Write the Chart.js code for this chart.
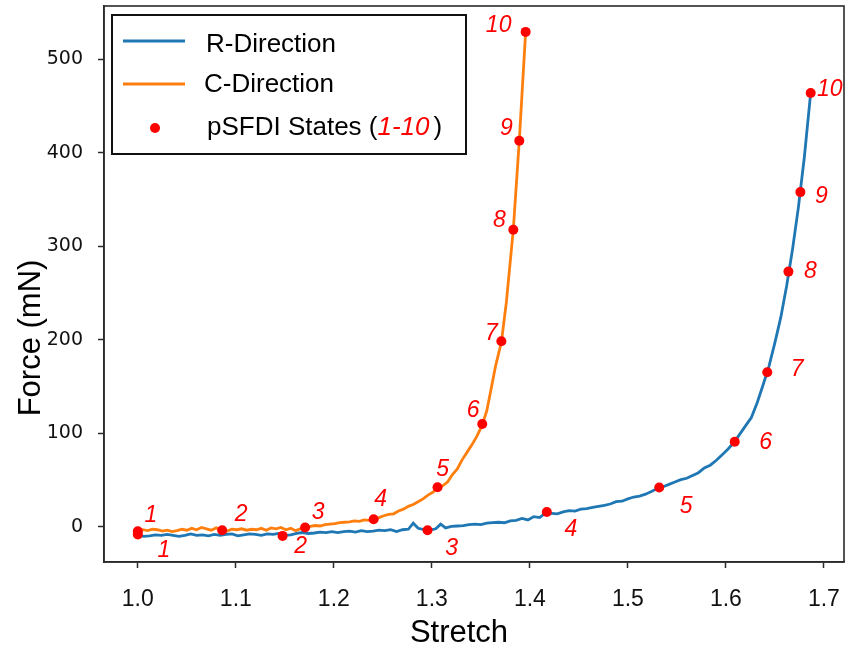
<!DOCTYPE html>
<html><head><meta charset="utf-8">
<script src="https://cdn.jsdelivr.net/npm/chart.js@4/dist/chart.umd.min.js"></script>
<style>html,body{margin:0;padding:0;background:#fff;}#wrap{width:849px;height:649px;}</style>
</head><body><div id="wrap"><canvas id="c" width="849" height="649"></canvas></div>
<script>
// ---- data ----
const rStretch = [1.000,1.006,1.012,1.018,1.024,1.030,1.036,1.042,1.048,1.054,1.060,1.066,1.072,1.078,1.084,1.090,1.096,1.102,1.108,1.114,1.120,1.126,1.132,1.138,1.144,1.150,1.156,1.162,1.168,1.174,1.180,1.186,1.192,1.198,1.204,1.210,1.216,1.222,1.228,1.234,1.240,1.246,1.252,1.258,1.264,1.270,1.276,1.281,1.286,1.292,1.298,1.304,1.309,1.314,1.320,1.326,1.332,1.338,1.344,1.350,1.356,1.362,1.368,1.374,1.380,1.386,1.392,1.398,1.404,1.410,1.416,1.422,1.428,1.434,1.440,1.446,1.452,1.458,1.464,1.470,1.476,1.482,1.488,1.494,1.500,1.506,1.512,1.518,1.524,1.530,1.536,1.542,1.548,1.554,1.560,1.566,1.572,1.578,1.584,1.590,1.596,1.602,1.608,1.614,1.620,1.626,1.632,1.638,1.644,1.650,1.656,1.662,1.668,1.674,1.680,1.6865];
const rForce = [-9,-10,-9.5,-8.5,-9,-8,-9,-10,-9,-7.5,-9,-8.5,-9.5,-8,-9,-8,-7.5,-9.5,-8.5,-7.5,-8,-9,-7.5,-8,-7,-9,-8.5,-7,-6,-7,-6.5,-5.5,-6,-5,-6,-5,-4.5,-5.5,-4,-5,-4.5,-3.5,-4,-3,-5,-3,-2.5,4,-1.5,-3,-3.5,-2,3,-1,0.5,1,1.5,2.5,3,2.5,4,4.5,5,4.5,6.5,7,9,7.5,11,10,15,14.5,14,16,17.5,17,19,19.5,21,22,23,24.5,27,27.5,30,32,33,35,38,41,43,45.5,48,50.5,52,55,58,63,66,71,77,83,90,99,108,117,133,152,172,197,224,258,297,342,395,464];
const cStretch = [1.000,1.005,1.010,1.015,1.020,1.025,1.030,1.035,1.040,1.045,1.050,1.055,1.060,1.065,1.070,1.075,1.080,1.086,1.091,1.096,1.101,1.106,1.111,1.116,1.121,1.126,1.131,1.136,1.141,1.146,1.151,1.156,1.161,1.166,1.171,1.176,1.181,1.186,1.191,1.196,1.201,1.206,1.211,1.216,1.221,1.226,1.231,1.236,1.241,1.246,1.251,1.256,1.261,1.266,1.271,1.276,1.281,1.286,1.291,1.296,1.301,1.306,1.311,1.316,1.321,1.326,1.331,1.336,1.341,1.346,1.351,1.356,1.360,1.365,1.371,1.376,1.3831,1.3892,1.3957];
const cForce = [-4.5,-3,-4,-2.5,-3,-4.5,-3.5,-5,-4,-2.5,-3.5,-1.5,-3,-0.5,-2,-3.5,-1,-3.5,-4.5,-2.5,-3,-2,-3.5,-2.5,-3,-1.5,-3.5,-1,-2,-0.5,-3,-1.5,-4,-2,-0.6,0.5,1.5,1,2.5,3,3.5,4.5,5,5.5,6.5,6,7.5,7,8.2,10,12,13.5,14,17,19,22,24,27,30,34,37,42,44,48,56,62,72,80,88,97,108,124,145,172,198,240,318,413,529.3];
const rStateStretch = [1.000,1.1477,1.2956,1.4173,1.532,1.609,1.6422,1.6638,1.676,1.6865];
const rStateForce = [-8,-9.6,-3.5,16,42.2,91,165.3,273,358,464];
const cStateStretch = [1.000,1.0861,1.1707,1.2406,1.3058,1.3514,1.3709,1.3831,1.3892,1.3957];
const cStateForce = [-4.6,-3.5,-0.6,8.2,42.5,110,198.5,317.7,413,529.3];
const stateLabels = ['1','2','3','4','5','6','7','8','9','10'];
const xTicks = [1.0,1.1,1.2,1.3,1.4,1.5,1.6,1.7];
const yTicks = [0,100,200,300,400,500];
const seriesNames = ['R-Direction','C-Direction','pSFDI States'];

// ---- layout constants (pixel offsets for state labels) ----
const cLabelOffsets = [[13,-16],[19,-16],[13,-15],[7,-20],[5,-18],[-9,-13],[-10,-8],[-14,-9],[-13,-12],[-27,-6]];
const rLabelOffsets = [[26,16],[18,11],[24,18],[24,18],[27,19],[31,1],[30,-3],[22,0],[21,4],[19,-3]];

const BLUE = '#1f77b4', ORANGE = '#ff7f0e', RED = '#ff0000';
const pts = (xs, ys) => xs.map((x, i) => ({x: x, y: ys[i]}));
const zeroPad = s => { s.paddingTop = 0; s.paddingBottom = 0; s.paddingLeft = 0; s.paddingRight = 0; };

const framePlugin = {
  id: 'frame',
  afterDraw(chart) {
    const {ctx, chartArea: a} = chart;
    ctx.save();
    ctx.strokeStyle = '#2a2a2a';
    ctx.lineWidth = 1.6;
    ctx.strokeRect(a.left, a.top, a.right - a.left, a.bottom - a.top);
    ctx.fillStyle = '#000';
    ctx.font = '31px "Liberation Sans", Arial, sans-serif';
    ctx.textAlign = 'center';
    ctx.textBaseline = 'middle';
    ctx.fillText('Stretch', 459, 633);
    ctx.translate(31, 338);
    ctx.rotate(-Math.PI / 2);
    ctx.fillText('Force (mN)', 0, 0);
    ctx.restore();
  }
};

const labelPlugin = {
  id: 'stateLabels',
  afterDatasetsDraw(chart) {
    const {ctx} = chart;
    ctx.save();
    ctx.fillStyle = RED;
    ctx.font = 'italic 23px "Liberation Sans", Arial, sans-serif';
    ctx.textAlign = 'center';
    ctx.textBaseline = 'middle';
    [[2, rLabelOffsets], [3, cLabelOffsets]].forEach(([di, offs]) => {
      const meta = chart.getDatasetMeta(di);
      meta.data.forEach((el, i) => {
        ctx.fillText(stateLabels[i], el.x + offs[i][0], el.y + offs[i][1]);
      });
    });
    ctx.restore();
  }
};

const legendPlugin = {
  id: 'customLegend',
  afterDraw(chart) {
    const {ctx} = chart;
    ctx.save();
    ctx.fillStyle = '#fff';
    ctx.fillRect(112, 15, 354, 139);
    ctx.strokeStyle = '#111';
    ctx.lineWidth = 2;
    ctx.strokeRect(112, 15, 354, 139);
    ctx.lineWidth = 3;
    ctx.strokeStyle = BLUE;
    ctx.beginPath(); ctx.moveTo(123, 41); ctx.lineTo(185, 41); ctx.stroke();
    ctx.strokeStyle = ORANGE;
    ctx.beginPath(); ctx.moveTo(123, 84); ctx.lineTo(185, 84); ctx.stroke();
    ctx.fillStyle = RED;
    ctx.beginPath(); ctx.arc(155, 128, 5, 0, Math.PI * 2); ctx.fill();
    ctx.fillStyle = '#000';
    ctx.textBaseline = 'middle';
    ctx.textAlign = 'left';
    ctx.font = '26px "Liberation Sans", Arial, sans-serif';
    ctx.fillText(seriesNames[0], 206, 45);
    ctx.fillText(seriesNames[1], 204, 85);
    const t1 = seriesNames[2] + ' (';
    ctx.fillText(t1, 207, 128);
    let x = 207 + ctx.measureText(t1).width;
    ctx.font = 'italic 26px "Liberation Sans", Arial, sans-serif';
    ctx.fillStyle = RED;
    const t2 = stateLabels[0] + '-' + stateLabels[9];
    ctx.fillText(t2, x, 128);
    x += ctx.measureText(t2).width + 4;
    ctx.font = '26px "Liberation Sans", Arial, sans-serif';
    ctx.fillStyle = '#000';
    ctx.fillText(')', x, 128);
    ctx.restore();
  }
};

new Chart(document.getElementById('c'), {
  type: 'scatter',
  data: {
    datasets: [
      {label: seriesNames[0], data: pts(rStretch, rForce), showLine: true, borderColor: BLUE, borderWidth: 2.8, pointRadius: 0, tension: 0, order: 3},
      {label: seriesNames[1], data: pts(cStretch, cForce), showLine: true, borderColor: ORANGE, borderWidth: 2.8, pointRadius: 0, tension: 0, order: 2},
      {label: seriesNames[2], data: pts(rStateStretch, rStateForce), showLine: false, backgroundColor: RED, borderWidth: 0, pointRadius: 5, order: 1},
      {label: seriesNames[2] + ' C', data: pts(cStateStretch, cStateForce), showLine: false, backgroundColor: RED, borderWidth: 0, pointRadius: 5, order: 0}
    ]
  },
  options: {
    responsive: false,
    animation: false,
    devicePixelRatio: 1,
    layout: {padding: {left: 0, right: 2, top: 6, bottom: 0}},
    plugins: {legend: {display: false}, tooltip: {enabled: false}},
    scales: {
      x: {
        type: 'linear', min: 0.9655, max: 1.7205,
        afterBuildTicks: s => { s.ticks = xTicks.map(v => ({value: v})); },
        afterFit: s => { s.height = 87; zeroPad(s); },
        ticks: {callback: v => Number(v).toFixed(1), color: '#111', padding: 18, maxRotation: 0,
                font: {family: '"Liberation Sans", Arial, sans-serif', size: 23}},
        grid: {drawOnChartArea: false, drawTicks: true, tickLength: 6, tickColor: '#2a2a2a', tickWidth: 1.5},
        border: {display: true, color: '#2a2a2a', width: 1.6}
      },
      y: {
        type: 'linear', min: -37.5, max: 557,
        afterBuildTicks: s => { s.ticks = yTicks.map(v => ({value: v})); },
        afterFit: s => { s.width = 104; zeroPad(s); },
        ticks: {color: '#111', padding: 15,
                font: {family: '"DejaVu Sans", sans-serif', size: 19}},
        grid: {drawOnChartArea: false, drawTicks: true, tickLength: 6, tickColor: '#2a2a2a', tickWidth: 1.5},
        border: {display: true, color: '#2a2a2a', width: 1.6}
      }
    }
  },
  plugins: [framePlugin, labelPlugin, legendPlugin]
});
</script>
</body></html>
